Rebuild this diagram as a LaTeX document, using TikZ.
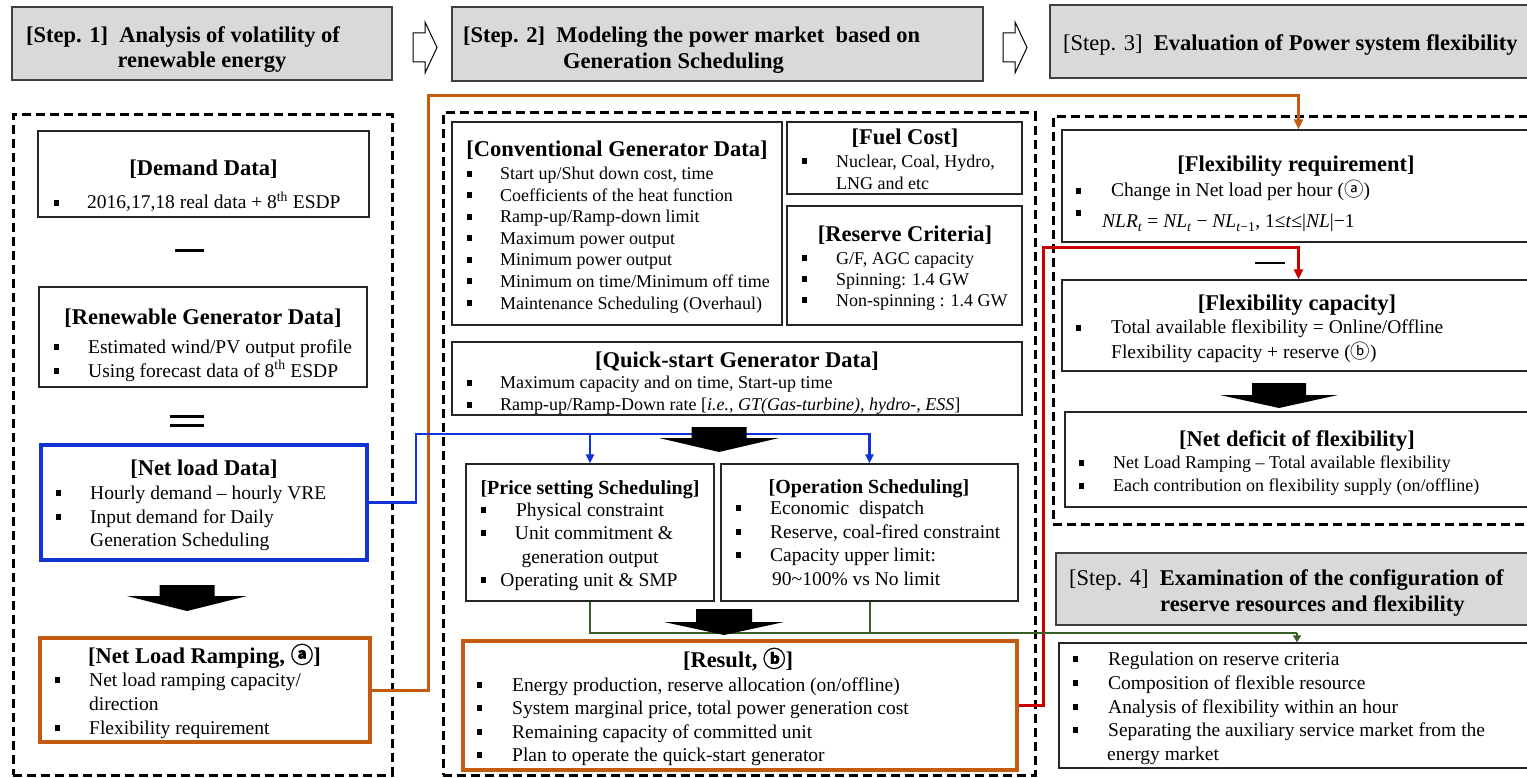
\documentclass[tikz,border=0pt]{standalone}
\usepackage{fontspec}
\setmainfont{Liberation Serif}
\newfontfamily\encl{Noto Sans CJK SC}
\newfontfamily\enclb{Noto Sans CJK SC}[FakeBold=0.8]
\usetikzlibrary{arrows.meta,fit}

\definecolor{hdrgray}{RGB}{217,217,217}
\definecolor{hdredge}{RGB}{64,64,64}
\definecolor{cblue}{RGB}{18,52,214}
\definecolor{corange}{RGB}{197,90,17}
\definecolor{cred}{RGB}{200,0,0}
\definecolor{cgreen}{RGB}{56,94,35}

\newcommand\fT{\fontsize{22.5}{27}\selectfont\bfseries}
\newcommand\fS{\fontsize{20}{24}\selectfont\bfseries}
\newcommand\fB{\fontsize{19.5}{23.5}\selectfont}
\newcommand\fC{\fontsize{18}{21.5}\selectfont}
\newcommand\fH{\fontsize{22.5}{27}\selectfont}

% square list bullet, centred at x, sitting on baseline y
\newcommand\bul[2]{\fill (#1-2.5,#2-3) rectangle (#1+2.5,#2-9);}
% solid black block arrow: centre x, top, shaft bottom, tip, shaft half width, head half width
\newcommand\blockarrow[6]{\fill[black] (#1-#5,#2) -- (#1+#5,#2) -- (#1+#5,#3) -- (#1+#6,#3)
  -- (#1,#4) -- (#1-#6,#3) -- (#1-#5,#3) -- cycle;}
% hollow step arrow starting at x
\newcommand\steparrow[1]{\draw[line width=1pt, fill=white] (#1,33) -- (#1+12,33) -- (#1+12,22)
  -- (#1+24,47.5) -- (#1+12,73) -- (#1+12,62) -- (#1,62) -- cycle;}

\tikzset{
  hdr/.style={draw=hdredge, fill=hdrgray, line width=1.5pt, inner sep=0pt},
  panel/.style={draw=black, line width=3pt, dash pattern=on 9pt off 5pt, inner sep=0pt},
  card/.style={draw=black!85, line width=1.4pt, fill=white, inner sep=0pt},
  bluecard/.style={draw=cblue, line width=3.2pt, fill=white, inner sep=0pt},
  orangecard/.style={draw=corange, line width=3.8pt, fill=white, inner sep=0pt},
  ttl/.style={anchor=base, inner sep=0pt, font=\fT},
  ttls/.style={anchor=base, inner sep=0pt, font=\fS},
  txt/.style={anchor=base west, inner sep=0pt, font=\fB},
  txtc/.style={anchor=base, inner sep=0pt, font=\fB},
  stxt/.style={anchor=base west, inner sep=0pt, font=\fC},
  htxt/.style={anchor=base west, inner sep=0pt, font=\fH},
  oconn/.style={draw=corange, line width=3pt, -{Triangle[length=10pt,width=9pt]}},
  bconn/.style={draw=cblue, line width=2.5pt},
  barrow/.style={bconn, -{Triangle[length=9pt,width=8pt]}},
  rconn/.style={draw=cred, line width=3pt, -{Triangle[length=10pt,width=9pt]}},
  gconn/.style={draw=cgreen, line width=2pt},
  garrow/.style={gconn, -{Triangle[length=7pt,width=8pt]}},
}

\begin{document}
\begin{tikzpicture}[x=1pt,y=-1pt]
\useasboundingbox (0,0) rectangle (1527,778);
\fill[white] (0,0) rectangle (1527,778);

% ---------- step headers ----------
\node[hdr, fit={(12,7) (392,80)}] (s1) {};
\node[htxt] (s1a) at (26,43) {\bfseries [Step. 1]\ \ Analysis of volatility of};
\node[ttl] (s1b) at (202,68) {renewable energy};
\steparrow{413}
\node[hdr, fit={(452,7) (983,81)}] (s2) {};
\node[htxt] (s2a) at (463,43) {\bfseries [Step. 2]\ \ Modeling the power market\ \ based on};
\node[htxt] (s2b) at (563,69) {\bfseries Generation Scheduling};
\steparrow{1003}
\node[hdr, fit={(1050,5) (1535,78)}] (s3) {};
\node[htxt] (s3a) at (1063,51) {[Step. 3]\ \ \textbf{Evaluation of Power system flexibility}};
\node[hdr, fit={(1056,553) (1535,625)}] (s4) {};
\node[htxt] (s4a) at (1069,585) {[Step. 4]\ \ \textbf{Examination of the configuration of}};
\node[htxt] (s4b) at (1160,611) {\bfseries reserve resources and flexibility};

% ---------- dashed panels ----------
\node[panel, fit={(13,115) (392,775)}] (p1) {};
\node[panel, fit={(443,113) (1035,775)}] (p2) {};
\node[panel, fit={(1053,117) (1535,524)}] (p3) {};

% ---------- step 1 column ----------
\node[card, fit={(38,131) (369,217)}] (demand) {};
\node[ttl] (demandT) at (203.5,176) {[Demand Data]};
\bul{56}{209}
\node[txt] (demand1) at (87,209) {2016,17,18 real data + 8\textsuperscript{th} ESDP};

\draw[line width=3pt] (175,251) -- (204,251);

\node[card, fit={(39,287) (367,387)}] (renew) {};
\node[ttl] (renewT) at (203,324) {[Renewable Generator Data]};
\bul{56}{353}
\node[txt] (renew1) at (88,353) {Estimated wind/PV output profile};
\bul{56}{377}
\node[txt] (renew2) at (88,377) {Using forecast data of 8\textsuperscript{th} ESDP};

\draw[line width=3pt] (170,416) -- (204,416) (170,425) -- (204,425);

\node[bluecard, fit={(41,445) (367,560)}] (netload) {};
\node[ttl] (netloadT) at (204,475) {[Net load Data]};
\bul{58}{499}
\node[txt] (netload1) at (90,499) {Hourly demand – hourly VRE};
\bul{58}{523}
\node[txt] (netload2) at (90,523) {Input demand for Daily};
\node[txt] (netload3) at (90,546) {Generation Scheduling};

\node[orangecard, fit={(40,638) (370,742)}] (nlr) {};
\node[ttl] (nlrT) at (204.5,663) {[Net Load Ramping, {\enclb ⓐ}]};
\bul{57}{686}
\node[txt] (nlr1) at (89,686) {Net load ramping capacity/};
\node[txt] (nlr2) at (89,710) {direction};
\bul{57}{734}
\node[txt] (nlr3) at (89,734) {Flexibility requirement};

% ---------- step 2 column ----------
\node[card, fit={(452,122) (782,325)}] (conv) {};
\node[ttl] (convT) at (617,157) {[Conventional Generator Data]};
\foreach \yy/\tx [count=\i] in {180/{Start up/Shut down cost, time},
    201.5/{Coefficients of the heat function},
    223/{Ramp-up/Ramp-down limit},
    244.5/{Maximum power output},
    266/{Minimum power output},
    287.5/{Minimum on time/Minimum off time},
    309/{Maintenance Scheduling (Overhaul)}}{
  \bul{469}{\yy}
  \node[stxt] (conv\i) at (500,\yy) {\tx};
}

\node[card, fit={(787,122) (1022,194)}] (fuel) {};
\node[ttl] (fuelT) at (905,145) {[Fuel Cost]};
\bul{804}{167.5}
\node[stxt] (fuel1) at (836,167.5) {Nuclear, Coal, Hydro,};
\node[stxt] (fuel2) at (836,189.5) {LNG and etc};

\node[card, fit={(787,206) (1022,325)}] (reserve) {};
\node[ttl] (reserveT) at (905,242) {[Reserve Criteria]};
\bul{804}{264.5}
\node[stxt] (reserve1) at (836,264.5) {G/F, AGC capacity};
\bul{804}{285.5}
\node[stxt] (reserve2) at (836,285.5) {Spinning: 1.4 GW};
\bul{804}{306.5}
\node[stxt] (reserve3) at (836,306.5) {Non-spinning : 1.4 GW};

\node[card, fit={(452,342) (1022,415)}] (quick) {};
\node[ttl] (quickT) at (737,367) {[Quick-start Generator Data]};
\bul{469}{388.5}
\node[stxt] (quick1) at (500,388.5) {Maximum capacity and on time, Start-up time};
\bul{469}{410.5}
\node[stxt] (quick2) at (500,410.5) {Ramp-up/Ramp-Down rate [\textit{i.e., GT(Gas-turbine), hydro-, ESS}]};

\node[card, fit={(466,464) (714,601)}] (price) {};
\node[ttls] (priceT) at (590,494) {[Price setting Scheduling]};
\bul{483}{516}
\node[txtc] (price1) at (590,516) {Physical constraint};
\bul{483}{539}
\node[txtc] (price2) at (594,539) {Unit commitment \&};
\node[txtc] (price3) at (590,563) {generation output};
\bul{483}{586}
\node[txtc] (price4) at (589,586) {Operating unit \& SMP};

\node[card, fit={(721,464) (1018,601)}] (oper) {};
\node[ttls] (operT) at (869,493) {[Operation Scheduling]};
\bul{738}{514}
\node[txt] (oper1) at (770,514) {Economic\ \ dispatch};
\bul{738}{538}
\node[txt] (oper2) at (770,538) {Reserve, coal-fired constraint};
\bul{738}{561}
\node[txt] (oper3) at (770,561) {Capacity upper limit:};
\node[txt] (oper4) at (772,585) {90\textasciitilde100\% vs No limit};

\node[orangecard, fit={(463,641) (1017,770)}] (result) {};
\node[ttl] (resultT) at (738,667) {[Result, {\enclb ⓑ}]};
\foreach \yy/\tx [count=\i] in {691/{Energy production, reserve allocation (on/offline)},
    714/{System marginal price, total power generation cost},
    738/{Remaining capacity of committed unit},
    761/{Plan to operate the quick-start generator}}{
  \bul{479}{\yy}
  \node[txt] (result\i) at (512,\yy) {\tx};
}

% ---------- step 3 column ----------
\node[card, fit={(1062,130) (1535,242)}] (flexreq) {};
\node[ttl] (flexreqT) at (1296,172) {[Flexibility requirement]};
\bul{1078}{197}
\node[txt] (flexreq1) at (1111,197) {Change in Net load per hour ({\encl ⓐ})};
\bul{1078}{219}
\node[txt] (flexreq2) at (1102,228) {\textit{NLR}\textsubscript{\textit{t}} = \textit{NL}\textsubscript{\textit{t}} − \textit{NL}\textsubscript{\textit{t}−1}, 1≤\textit{t}≤|\textit{NL}|−1};

\draw[line width=2.5pt] (1255,263) -- (1285,263);

\node[card, fit={(1062,280) (1535,371)}] (flexcap) {};
\node[ttl] (flexcapT) at (1297,310) {[Flexibility capacity]};
\bul{1078}{334}
\node[txt] (flexcap1) at (1111,334) {Total available flexibility = Online/Offline};
\node[txt] (flexcap2) at (1111,358) {Flexibility capacity + reserve ({\encl ⓑ})};

\node[card, fit={(1065,412) (1535,507)}] (deficit) {};
\node[ttl] (deficitT) at (1297,446) {[Net deficit of flexibility]};
\bul{1081}{468.5}
\node[stxt] (deficit1) at (1113,468.5) {Net Load Ramping – Total available flexibility};
\bul{1081}{491.5}
\node[stxt] (deficit2) at (1113,491.5) {Each contribution on flexibility supply (on/offline)};

% ---------- step 4 ----------
\node[card, fit={(1059,643) (1535,768)}] (s4list) {};
\foreach \yy/\tx [count=\i] in {665/{Regulation on reserve criteria},
    689/{Composition of flexible resource},
    713/{Analysis of flexibility within an hour},
    736/{Separating the auxiliary service market from the}}{
  \bul{1075}{\yy}
  \node[txt] (s4list\i) at (1108,\yy) {\tx};
}
\node[txt] (s4list5) at (1107,760) {energy market};

% ---------- connectors ----------
\coordinate (oturn) at (428,96);
\draw[oconn] (nlr.east) -| (oturn) -| (flexreq.north);

\coordinate (bturn) at (416,434);
\draw[bconn] (netload.east) -| (bturn) -- (oper.north |- bturn);
\draw[barrow] (bturn) -| (price.north);
\draw[barrow] (bturn) -| (oper.north);

\coordinate (rturn) at (1043,248);
\draw[rconn] (result.east) -| (rturn) -| (flexcap.north);

\coordinate (gjoin) at (s4list.north |- 0,633);
\draw[gconn] (price.south) |- (gjoin);
\draw[gconn] (oper.south) |- (gjoin);
\draw[garrow] (gjoin) -- (s4list.north);

% ---------- block arrows ----------
\blockarrow{187}{585}{596}{611}{27.5}{60}
\blockarrow{719}{427}{438}{452}{27.5}{60}
\blockarrow{724}{609}{622}{635}{28}{60}
\blockarrow{1279}{383}{395}{408}{27}{59}
\end{tikzpicture}
\end{document}
